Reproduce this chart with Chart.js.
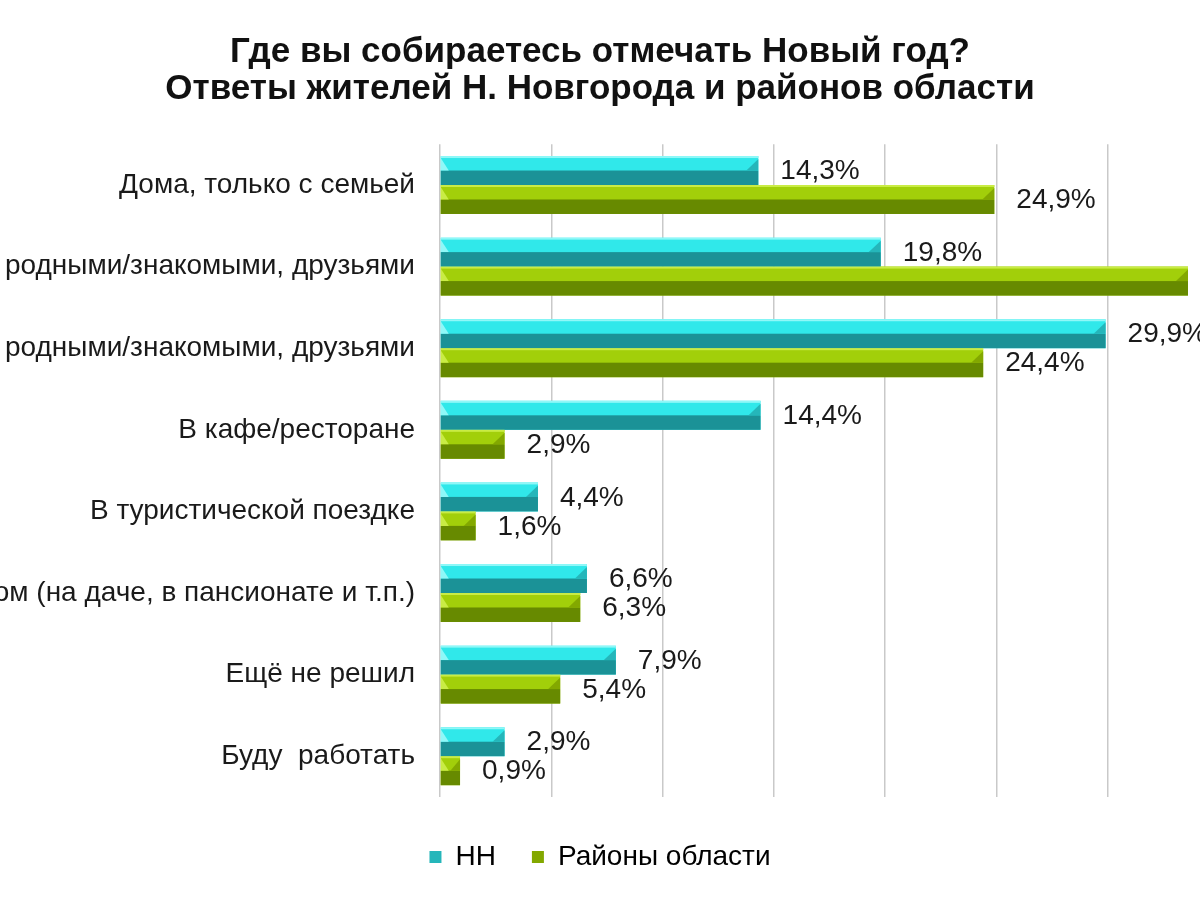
<!DOCTYPE html>
<html>
<head>
<meta charset="utf-8">
<script src="https://cdn.jsdelivr.net/npm/chart.js@4"></script>
<style>
  body { margin: 0; background: #fff; }
  canvas { display: block; }
</style>
</head>
<body>
<canvas id="grafico" width="1200" height="900"></canvas>
<script>
// Категории (подписи оси)
const categorias = [
  'Дома, только с семьей',
  'Дома, с родными/знакомыми, друзьями',
  'В гостях, с родными/знакомыми, друзьями',
  'В кафе/ресторане',
  'В туристической поездке',
  'За городом (на даче, в пансионате и т.п.)',
  'Ещё не решил',
  'Буду  работать'
];

// Значения рядов, %
const valoresNN = [14.3, 19.8, 29.9, 14.4, 4.4, 6.6, 7.9, 2.9];
const valoresRayony = [24.9, 33.6, 24.4, 2.9, 1.6, 6.3, 5.4, 0.9];

const nombresSeries = ['НН', 'Районы области'];
const titulo = ['Где вы собираетесь отмечать Новый год?', 'Ответы жителей Н. Новгорода и районов области'];

// Цвета "объёмных" полос: светлая, тёмная, средняя, блик
const coloresNN = { light: '#30e8ea', dark: '#1b9297', mid: '#25b6ba', hi: '#8ff8f8' };
const coloresRay = { light: '#a2cf0a', dark: '#678a00', mid: '#83a800', hi: '#c9ec45' };

const fuente = '"Liberation Sans", Arial, sans-serif';

// Плагин: рисует фаски на полосах
const bevelPlugin = {
  id: 'bevel',
  afterDatasetsDraw(chart) {
    const ctx = chart.ctx;
    chart.data.datasets.forEach((ds, i) => {
      const c = i === 0 ? coloresNN : coloresRay;
      chart.getDatasetMeta(i).data.forEach(el => {
        const { x, y, base, height } = el.getProps(['x', 'y', 'base', 'height'], true);
        const top = y - height / 2;
        const bottom = y + height / 2;
        const w = x - base;
        const b = Math.min(12, w / 2);
        ctx.save();
        ctx.fillStyle = c.dark;
        ctx.fillRect(base, y, w, bottom - y);
        ctx.fillStyle = c.hi;
        ctx.fillRect(base, top, w, 2);
        ctx.fillStyle = c.mid;
        ctx.beginPath();
        ctx.moveTo(x - b, y);
        ctx.lineTo(x, top + 3);
        ctx.lineTo(x, y);
        ctx.closePath();
        ctx.fill();
        ctx.fillStyle = c.hi;
        ctx.beginPath();
        ctx.moveTo(base, top + 2);
        ctx.lineTo(base + Math.min(8, w / 2), y);
        ctx.lineTo(base, y);
        ctx.closePath();
        ctx.fill();
        ctx.restore();
      });
    });
  }
};

// Плагин: подписи значений справа от полос
const etiquetasPlugin = {
  id: 'etiquetas',
  afterDatasetsDraw(chart) {
    const ctx = chart.ctx;
    ctx.save();
    ctx.font = '28px ' + fuente;
    ctx.fillStyle = '#1a1a1a';
    ctx.textBaseline = 'middle';
    ctx.textAlign = 'left';
    chart.data.datasets.forEach((ds, i) => {
      chart.getDatasetMeta(i).data.forEach((el, j) => {
        const texto = ds.data[j].toFixed(1).replace('.', ',') + '%';
        ctx.fillText(texto, el.x + 22, el.y + 1);
      });
    });
    ctx.restore();
  }
};

const grafico = document.getElementById('grafico');

new Chart(grafico, {
  type: 'bar',
  data: {
    labels: categorias,
    datasets: [
      {
        label: nombresSeries[0],
        data: valoresNN,
        backgroundColor: coloresNN.light,
        borderWidth: 0,
        barPercentage: 1,
        categoryPercentage: 0.71
      },
      {
        label: nombresSeries[1],
        data: valoresRayony,
        backgroundColor: coloresRay.light,
        borderWidth: 0,
        barPercentage: 1,
        categoryPercentage: 0.71
      }
    ]
  },
  options: {
    indexAxis: 'y',
    responsive: false,
    animation: false,
    layout: { padding: { left: 0, right: 0, top: 0, bottom: 19 } },
    scales: {
      x: {
        min: 0,
        max: 34.14,
        grid: { color: '#c9c9c9', lineWidth: 1.5, drawTicks: false },
        border: { display: false },
        ticks: { display: false, stepSize: 5, includeBounds: false },
        afterFit: (scale) => { scale.height = 10; }
      },
      y: {
        grid: { display: false, drawTicks: false },
        border: { display: false },
        ticks: {
          color: '#1a1a1a',
          padding: 25,
          font: { family: fuente, size: 28 }
        },
        afterFit: (scale) => { scale.width = 440; }
      }
    },
    plugins: {
      title: {
        display: true,
        text: titulo,
        color: '#111',
        font: { family: fuente, size: 35, weight: 'bold', lineHeight: 1.06 },
        padding: { top: 34, bottom: 36 }
      },
      legend: {
        position: 'bottom',
        labels: {
          color: '#111',
          boxWidth: 12,
          boxHeight: 12,
          padding: 36,
          font: { family: fuente, size: 28 },
          generateLabels: (chart) => chart.data.datasets.map((ds, i) => ({
            text: ds.label,
            fillStyle: i === 0 ? coloresNN.mid : coloresRay.mid,
            strokeStyle: 'transparent',
            lineWidth: 0,
            datasetIndex: i
          }))
        }
      },
      tooltip: { enabled: false }
    }
  },
  plugins: [bevelPlugin, etiquetasPlugin]
});
</script>
</body>
</html>
